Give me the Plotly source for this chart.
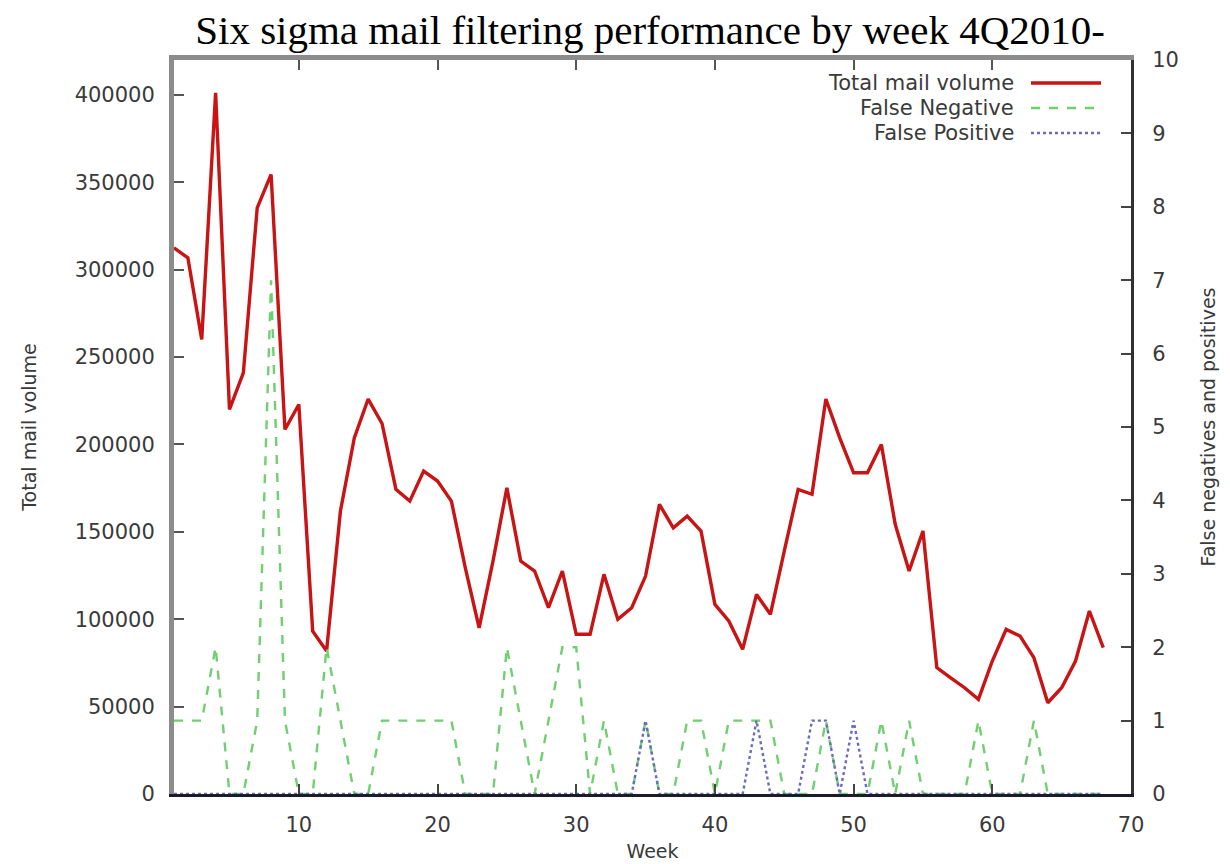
import plotly.graph_objects as go

# ---- data ----
weeks = list(range(1, 69))

total_mail_volume = [
    312500, 306800, 260100, 401200, 220100, 241000, 335400, 354500, 208600, 222900,
    93200, 81800, 161900, 203800, 226000, 212000, 174400, 167600, 184800, 179100,
    167600, 129500, 95100, 133300, 175200, 133300, 127600, 106600, 127600, 91400,
    91400, 125700, 99900, 106600, 124700, 165700, 152300, 159000, 150400, 108500,
    99000, 82800, 114200, 102800, 139000, 174300, 171500, 226000, 203800, 183800,
    183800, 200000, 154300, 127600, 150500, 72300, 66500, 60800, 54200, 76100,
    94200, 90400, 78000, 52200, 60800, 76100, 104700, 83700,
]

false_negative = [
    1, 1, 1, 2, 0, 0, 1, 7, 1, 0,
    0, 2, 1, 0, 0, 1, 1, 1, 1, 1,
    1, 0, 0, 0, 2, 1, 0, 1, 2, 2,
    0, 1, 0, 0, 1, 0, 0, 1, 1, 0,
    1, 1, 1, 1, 0, 0, 0, 1, 0, 0,
    0, 1, 0, 1, 0, 0, 0, 0, 1, 0,
    0, 0, 1, 0, 0, 0, 0, 0,
]

false_positive = [
    0, 0, 0, 0, 0, 0, 0, 0, 0, 0,
    0, 0, 0, 0, 0, 0, 0, 0, 0, 0,
    0, 0, 0, 0, 0, 0, 0, 0, 0, 0,
    0, 0, 0, 0, 1, 0, 0, 0, 0, 0,
    0, 0, 1, 0, 0, 0, 1, 1, 0, 1,
    0, 0, 0, 0, 0, 0, 0, 0, 0, 0,
    0, 0, 0, 0, 0, 0, 0, 0,
]

series_names = ["Total mail volume", "False Negative", "False Positive"]
x_ticks = [10, 20, 30, 40, 50, 60, 70]
y_ticks = [0, 50000, 100000, 150000, 200000, 250000, 300000, 350000, 400000]
y2_ticks = list(range(0, 11))

# ---- styles ----
RED = "#c81414"
GREEN = "#6fd06f"
BLUE = "#6a6ac0"
SANS = "DejaVu Sans, Liberation Sans, Arial, sans-serif"
TICK_FONT = dict(family=SANS, size=21, color="#3a3a3a")
TITLE_FONT = dict(family=SANS, size=19, color="#3a3a3a")

fig = go.Figure()
fig.add_trace(go.Scatter(x=weeks, y=total_mail_volume, mode="lines", name=series_names[0],
                         line=dict(color=RED, width=3.4), yaxis="y", showlegend=False))
fig.add_trace(go.Scatter(x=weeks, y=false_negative, mode="lines", name=series_names[1],
                         line=dict(color=GREEN, width=2.4, dash="dash"), yaxis="y2", showlegend=False))
fig.add_trace(go.Scatter(x=weeks, y=false_positive, mode="lines", name=series_names[2],
                         line=dict(color=BLUE, width=2.4, dash="dot"), yaxis="y2", showlegend=False))

fig.update_layout(
    width=1230, height=864,
    margin=dict(l=166, r=107, t=52, b=78, autoexpand=False),
    paper_bgcolor="white", plot_bgcolor="white",
    title=dict(text="Six sigma mail filtering performance by week 4Q2010-",
               font=dict(family="Liberation Serif, Times New Roman, serif", size=41, color="black"),
               x=0.522, xref="container", xanchor="center",
               y=0.9745, yref="container", yanchor="middle"),
    xaxis=dict(range=[1, 70], tickvals=x_ticks, ticks="inside", ticklen=10, tickwidth=2,
               tickcolor="#444", showline=True, linecolor="#1c1c28", linewidth=3,
               showgrid=False, zeroline=False, tickfont=TICK_FONT, ticklabelstandoff=10,
               title=dict(text="Week", font=TITLE_FONT, standoff=9), automargin=False),
    xaxis2=dict(range=[1, 70], tickvals=x_ticks, ticks="inside", ticklen=10, tickwidth=2,
                tickcolor="#555", showline=True, linecolor="#8c8c8c", linewidth=5,
                showgrid=False, zeroline=False, showticklabels=False,
                overlaying="x", side="top", anchor="y", automargin=False),
    yaxis=dict(range=[0, 420000], tickvals=y_ticks, tickformat="d", ticks="inside",
               ticklen=10, tickwidth=2, tickcolor="#555", showline=True, linecolor="#8c8c8c",
               linewidth=5, showgrid=False, zeroline=False, tickfont=TICK_FONT,
               ticklabelstandoff=10,
               title=dict(text="Total mail volume", font=TITLE_FONT, standoff=34),
               automargin=False),
    yaxis2=dict(range=[0, 10], tickvals=y2_ticks, ticks="inside", ticklen=10, tickwidth=2,
                tickcolor="#444", showline=True, linecolor="#303030", linewidth=3,
                overlaying="y", side="right", showgrid=False, zeroline=False,
                tickfont=TICK_FONT, ticklabelstandoff=14,
                title=dict(text="False negatives and positives", font=TITLE_FONT, standoff=24),
                automargin=False),
)

# dummy trace so xaxis2 (top mirror ticks) is drawn
fig.add_trace(go.Scatter(x=[None], y=[None], xaxis="x2", yaxis="y", showlegend=False,
                         hoverinfo="skip"))

# gnuplot-style key: text on the left, line sample on the right
legend_rows = [0.9687, 0.9346, 0.9005]
legend_styles = [dict(color=RED, width=3.4), dict(color=GREEN, width=2.4, dash="dash"),
                 dict(color=BLUE, width=2.4, dash="dot")]
for name, ypos, style in zip(series_names, legend_rows, legend_styles):
    fig.add_annotation(x=0.880, y=ypos, xref="paper", yref="paper", text=name,
                       showarrow=False, xanchor="right", yanchor="middle",
                       font=dict(family=SANS, size=21, color="#3a3a3a"))
    fig.add_shape(type="line", xref="paper", yref="paper", x0=0.8955, x1=0.9687,
                  y0=ypos, y1=ypos, line=style)

fig.write_html("out.html")
